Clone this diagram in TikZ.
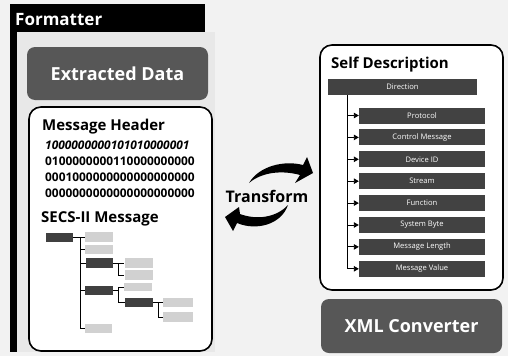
\documentclass[tikz,border=0pt]{standalone}
\usepackage{fontspec}
\setmainfont{Open Sans}
\usetikzlibrary{arrows.meta,calc}
\definecolor{bgc}{gray}{0.95}
\definecolor{panelc}{gray}{0.91}
\definecolor{bigbox}{gray}{0.34}
\definecolor{barc}{gray}{0.26}
\definecolor{treedark}{gray}{0.25}
\definecolor{treelight}{gray}{0.82}
\begin{document}
\begin{tikzpicture}[x=1pt,y=-1pt,
  bigdark/.style={fill=bigbox, rounded corners=8pt, text=white, inner sep=0pt,
    font=\bfseries\fontsize{18}{20}\selectfont},
  whitebox/.style={draw=black, line width=1.6pt, fill=white, rounded corners=12pt, inner sep=0pt},
  heading/.style={anchor=base west, inner sep=0pt, font=\bfseries\fontsize{15}{17}\selectfont},
  bits/.style={anchor=west, inner sep=0pt, font=\bfseries\fontsize{11.9}{13}\selectfont},
  fieldbar/.style={fill=barc, text=white, inner sep=0pt, minimum width=126pt, minimum height=16pt,
    font=\fontsize{7.6}{8.6}\selectfont},
  tdark/.style={fill=treedark, inner sep=0pt},
  tlight/.style={fill=treelight, inner sep=0pt},
  tline/.style={draw=black, line width=0.8pt},
  fieldarrow/.style={draw=black, line width=0.9pt, -{Triangle[length=5pt,width=5.5pt]}},
  bigarrow/.style={fill=black}
]
\useasboundingbox (0,0) rectangle (508,356);
\fill[bgc] (0,0) rectangle (508,356);
\fill[panelc] (17,32) rectangle (215,352);
% Formatter header and left bar
\fill[black] (10,4) rectangle (205,32);
\fill[black] (10,4) rectangle (17,352);
\node[anchor=base west, inner sep=0pt, text=white, font=\bfseries\fontsize{17}{19}\selectfont] (fmt) at (15,25) {Formatter};
% Extracted data
\node[bigdark, minimum width=181pt, minimum height=53pt] (ext) at (117.5,73.5) {Extracted Data};
% Message box
\node[whitebox, minimum width=183pt, minimum height=244pt] (msg) at (120.5,229) {};
\node[heading] (mh) at (42,130) {Message Header};
\node[bits, font=\bfseries\itshape\fontsize{11.9}{13}\selectfont] (b1) at (45,145) {1000000000101010000001};
\node[bits] (b2) at (45,161) {0100000000110000000000};
\node[bits] (b3) at (45,177) {0001000000000000000000};
\node[bits] (b4) at (45,193) {0000000000000000000000};
\node[heading] (secs) at (41,222) {SECS-II Message};
% tree
\node[tdark, minimum width=27pt, minimum height=9pt] (r0) at (59.5,237) {};
\node[tlight, minimum width=28pt, minimum height=10pt] (l1) at (99,237) {};
\node[tlight, minimum width=28pt, minimum height=9pt] (l2) at (99,249.5) {};
\node[tdark, minimum width=27pt, minimum height=10pt] (d2) at (99.5,263) {};
\node[tlight, minimum width=28pt, minimum height=10pt] (l3) at (138.5,263) {};
\node[tlight, minimum width=28pt, minimum height=10pt] (l4) at (138.5,275) {};
\node[tdark, minimum width=28pt, minimum height=9pt] (d3) at (99,290) {};
\node[tlight, minimum width=28pt, minimum height=8pt] (l5) at (138,287) {};
\node[tdark, minimum width=28pt, minimum height=9pt] (d4) at (139,302.5) {};
\node[tlight, minimum width=30pt, minimum height=9pt] (l6) at (178,302.5) {};
\node[tlight, minimum width=30pt, minimum height=10pt] (l7) at (178,317) {};
\node[tlight, minimum width=27pt, minimum height=9pt] (l8) at (98.5,328.5) {};
\coordinate (v0) at (80,237);
\coordinate (v1) at (118,263);
\coordinate (v2) at (118,290);
\coordinate (v3) at (158,302.5);
\draw[tline] (r0.east) -- (l1.west);
\draw[tline] (v0) |- (l8.west);
\draw[tline] (v0 |- l2.west) -- (l2.west);
\draw[tline] (v0 |- d2.west) -- (d2.west);
\draw[tline] (v0 |- d3.west) -- (d3.west);
\draw[tline] (d2.east) -- (l3.west);
\draw[tline] (v1) |- (l4.west);
\draw[tline] (d3.east) -- (v2) -- (v2 |- l5.west) -- (l5.west);
\draw[tline] (v2) |- (d4.west);
\draw[tline] (d4.east) -- (l6.west);
\draw[tline] (v3) |- (l7.west);
% Transform
\node[anchor=base, inner sep=0pt, font=\bfseries\fontsize{16}{18}\selectfont] (tr) at (267,202) {Transform};
\fill[bigarrow] (249,183) .. controls (259,166) and (284,160) .. (303,165) -- (307,157) -- (313,173) -- (295,183) -- (300,175) .. controls (282,170) and (262,172) .. (249,183) -- cycle;
\fill[bigarrow] (288,205) .. controls (281,225) and (256,231) .. (237,223) -- (233,231) -- (225,217) -- (239,207) -- (240,214) .. controls (256,220) and (276,218) .. (288,205) -- cycle;
% Self description
\node[whitebox, minimum width=183pt, minimum height=245pt] (sd) at (411.5,167.5) {};
\node[heading] (sdt) at (331,68) {Self Description};
\node[fieldbar, minimum width=149pt] (dir) at (402.5,87) {Direction};
\foreach \n/\t [count=\i from 0] in {f0/Protocol,f1/Control Message,f2/Device ID,f3/Stream,f4/Function,f5/System Byte,f6/Message Length,f7/Message Value}{
  \node[fieldbar] (\n) at (422,115.5+21.9*\i) {\t};
}
\coordinate (trunk) at (347,95);
\draw[tline] (trunk) -- (trunk |- f7.west);
\foreach \n in {f0,f1,f2,f3,f4,f5,f6,f7}{
  \draw[fieldarrow] (trunk |- \n.west) -- (\n.west);
}
% XML converter
\node[bigdark, minimum width=181pt, minimum height=54pt] (xml) at (411.5,326) {XML Converter};
\end{tikzpicture}
\end{document}
